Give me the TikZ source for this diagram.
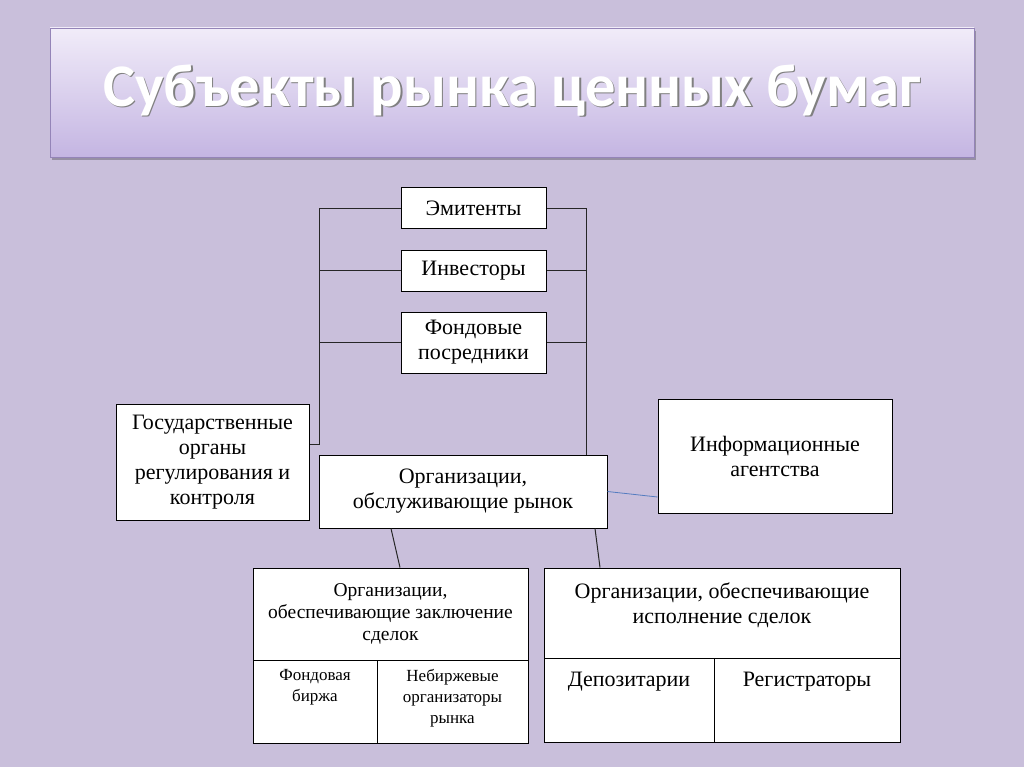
\documentclass[tikz,border=0pt]{standalone}
\usepackage{fontspec}
\setmainfont{Liberation Serif}
\newfontfamily\titlefont{Carlito}
\usetikzlibrary{positioning,shadows}
\definecolor{bgcol}{RGB}{201,191,219}
\definecolor{bannertop}{RGB}{241,236,249}
\definecolor{bannerbot}{RGB}{196,181,226}
\definecolor{bannerline}{RGB}{148,132,184}
\definecolor{linkblue}{RGB}{84,124,192}

\begin{document}
\begin{tikzpicture}[x=1pt, y=-1pt,
    box/.style={draw=black, fill=white, line width=1pt, align=center, inner sep=2pt,
                font=\fontsize{22}{25}\selectfont},
    cellbox/.style={draw=black, fill=white, line width=1pt},
    celltext/.style={anchor=north, align=center, inner sep=6pt},
    link/.style={draw=black!85, line width=1pt},
  ]
  \fill[bgcol] (0,0) rectangle (1024,767);
  \useasboundingbox (0,0) rectangle (1024,767);

  % Title banner
  \node[draw=bannerline, top color=bannertop, bottom color=bannerbot,
        minimum width=924pt, minimum height=129pt,
        drop shadow={shadow xshift=2pt, shadow yshift=-3pt, fill=black, opacity=0.25}]
        (banner) at (512,92.5) {};
  \node[anchor=base, text=black!50, font=\titlefont\bfseries\fontsize{60.5}{66}\selectfont]
        (titleshade) at (513.5,108) {Субъекты рынка ценных бумаг};
  \node[anchor=base, text=white, font=\titlefont\bfseries\fontsize{60.5}{66}\selectfont]
        (title) at (512,106.5) {Субъекты рынка ценных бумаг};

  % Market participants
  \node[box, minimum width=145pt, minimum height=41pt] (emit) at (473.5,208.5) {Эмитенты};
  \node[box, minimum width=145pt, minimum height=41pt] (invest) at (473.5,270.5) {Инвесторы};
  \node[box, minimum width=145pt, minimum height=61pt] (broker) at (473.5,342.5) {Фондовые\\посредники};
  \node[box, minimum width=193pt, minimum height=116pt] (gov) at (212.5,462) {Государственные\\органы\\регулирования и\\контроля};
  \node[box, minimum width=288pt, minimum height=73pt] (serve) at (463,491.5) {Организации,\\обслуживающие рынок};
  \node[box, minimum width=234pt, minimum height=114pt] (info) at (775,456) {Информационные\\агентства};

  % Deal-making organisations
  \node[box, minimum width=275pt, minimum height=92pt, font=\fontsize{19.5}{22}\selectfont]
        (dealhead) at (390.5,614) {Организации,\\обеспечивающие заключение\\сделок};
  \node[cellbox, minimum width=124pt, minimum height=83pt,
        label={[celltext, inner sep=10pt, font=\fontsize{17}{21}\selectfont]north:Фондовая\\биржа}] (exch) at (315,701.5) {};
  \node[cellbox, minimum width=151pt, minimum height=83pt,
        label={[celltext, inner sep=10pt, font=\fontsize{17}{21}\selectfont]north:Небиржевые\\организаторы\\рынка}] (otc) at (452.5,701.5) {};

  % Deal-execution organisations
  \node[cellbox, minimum width=356pt, minimum height=90pt,
        label={[celltext, inner sep=15pt, font=\fontsize{22}{25}\selectfont]north:Организации, обеспечивающие\\исполнение сделок}] (exechead) at (722,613) {};
  \node[cellbox, minimum width=170pt, minimum height=84pt,
        label={[celltext, inner sep=14pt, font=\fontsize{22}{25}\selectfont]north:Депозитарии}] (depo) at (629,700) {};
  \node[cellbox, minimum width=186pt, minimum height=84pt,
        label={[celltext, inner sep=14pt, font=\fontsize{22}{25}\selectfont]north:Регистраторы}] (regis) at (807,700) {};

  % Buses
  \coordinate (lbus) at (319,0);
  \coordinate (rbus) at (586,0);
  \draw[link] ([yshift=18pt]gov.east) -- ([yshift=18pt]gov.east -| lbus) -- (emit.west -| lbus) -- (emit.west);
  \draw[link] (invest.west -| lbus) -- (invest.west);
  \draw[link] (broker.west -| lbus) -- (broker.west);
  \draw[link] (serve.north -| rbus) -- (emit.east -| rbus) -- (emit.east);
  \draw[link] (invest.east -| rbus) -- (invest.east);
  \draw[link] (broker.east -| rbus) -- (broker.east);

  % Links below
  \draw[link] ([xshift=-72pt]serve.south) -- ([xshift=9.5pt]dealhead.north);
  \draw[link] ([xshift=132pt]serve.south) -- ([xshift=-122pt]exechead.north);
  \draw[linkblue, line width=0.8pt] (serve.east) -- ([yshift=-41pt]info.west);
\end{tikzpicture}
\end{document}
